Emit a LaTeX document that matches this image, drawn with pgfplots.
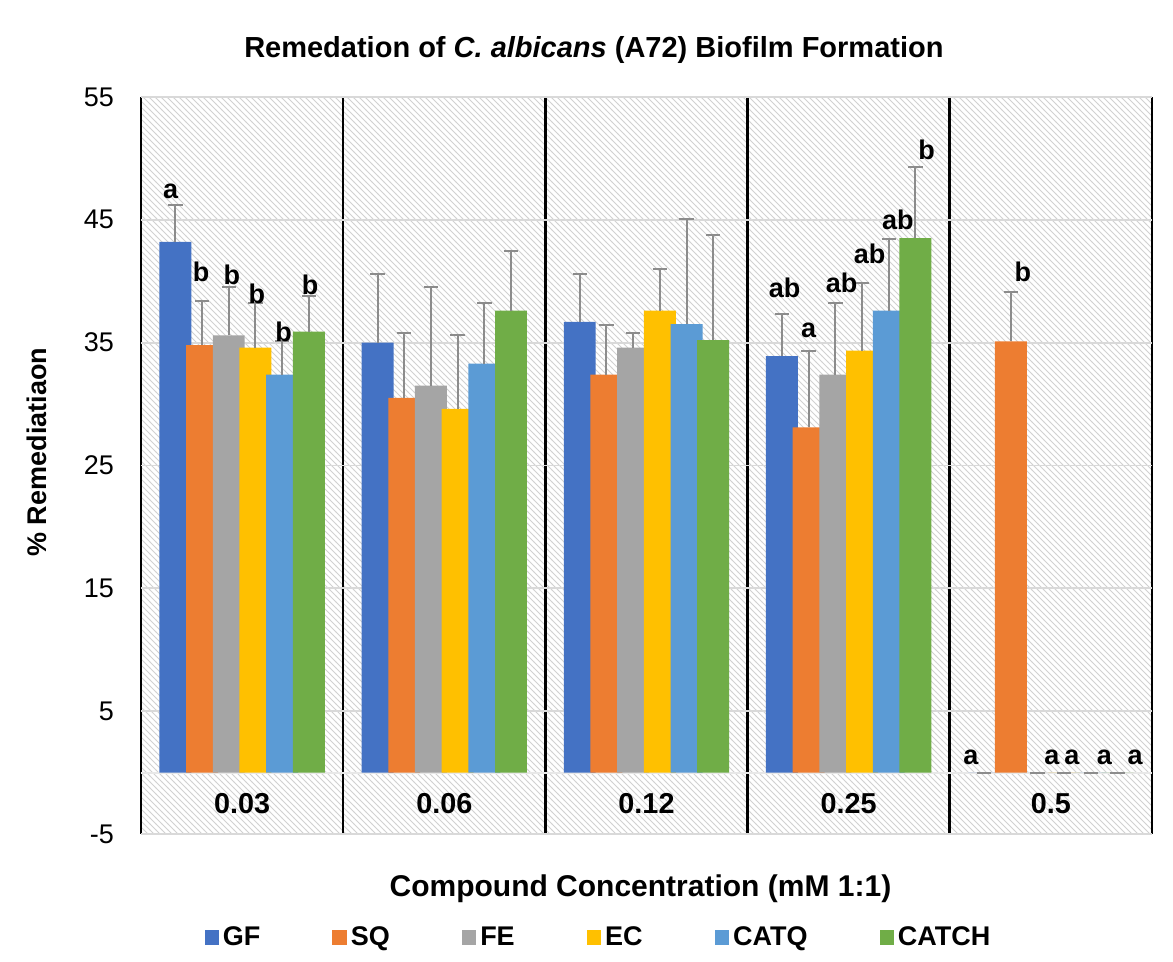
\documentclass[border=0pt]{standalone}
\usepackage{fontspec}
\setmainfont{Liberation Sans}
\usepackage{pgfplots}
\pgfplotsset{compat=1.18}
\usetikzlibrary{patterns}
\definecolor{cGF}{HTML}{4472C4}
\definecolor{cSQ}{HTML}{ED7D31}
\definecolor{cFE}{HTML}{A5A5A5}
\definecolor{cEC}{HTML}{FFC000}
\definecolor{cCATQ}{HTML}{5B9BD5}
\definecolor{cCATCH}{HTML}{70AD47}
\definecolor{cErr}{HTML}{8C8C8C}
\definecolor{cGrid}{HTML}{D9D9D9}
\pgfplotsset{
  mybar/.style={ybar, bar width=0.158, bar shift=0pt, draw=none,
    legend image code/.code={\fill[##1] (0pt,-3.6pt) rectangle (7.2pt,3.6pt);},
    error bars/y dir=plus, error bars/y explicit,
    error bars/error bar style={draw=cErr, line width=1pt},
    error bars/error mark options={rotate=90, mark size=3.6pt, line width=1pt, draw=cErr}},
}
\begin{document}
\begin{tikzpicture}
\useasboundingbox (-70.5pt,-64pt) rectangle (516pt,417pt);
\begin{axis}[
  scale only axis, width=505.5pt, height=368.5pt,
  at={(0pt,0pt)}, anchor=south west,
  xmin=-0.5, xmax=4.5, ymin=-5, ymax=55,
  ytick={-5,5,...,55},
  xtick={0,1,2,3,4},
  xticklabels={0.03,0.06,0.12,0.25,0.5},
  minor xtick={-0.5,0.5,1.5,2.5,3.5,4.5},
  xminorgrids, ymajorgrids,
  major grid style={draw=cGrid, line width=0.9pt},
  minor grid style={draw=black, line width=1.3pt},
  extra y ticks={0}, extra y tick labels={},
  extra y tick style={ymajorgrids=true, major grid style={draw=cGrid!60, line width=1pt}},
  axis line style={draw=none},
  major tick length=0pt, minor tick length=0pt,
  axis background/.style={pattern=north west lines, pattern color=black!18},
  /pgf/number format/assume math mode=true,
  yticklabel style={font=\fontsize{13.5}{16}\selectfont, xshift=-10pt},
  xticklabel style={font=\bfseries\fontsize{14.4}{17}\selectfont, anchor=center, yshift=15.35pt},
  title={Remedation of \textit{C. albicans} (A72) Biofilm Formation},
  title style={at={(axis description cs:0.448,1.0475)}, anchor=center, font=\bfseries\fontsize{14.5}{17}\selectfont},
  xlabel={Compound Concentration (mM 1:1)},
  xlabel style={at={(axis description cs:0.494,-0.0743)}, anchor=center, font=\bfseries\fontsize{15}{18}\selectfont},
  ylabel={\% Remediatiaon},
  ylabel style={at={(axis description cs:-0.1029,0.518)}, anchor=center, rotate=0, font=\bfseries\fontsize{13.5}{16}\selectfont},
  legend style={at={(axis description cs:0.4535,-0.1405)}, anchor=center, draw=none, fill=none,
    font=\bfseries\fontsize{13.5}{16}\selectfont,
    /tikz/every even column/.append style={column sep=34pt}},
  legend columns=6,
  legend entries={GF,SQ,FE,EC,CATQ,CATCH},
]
% GF (offset -0.33)
\addplot[mybar, fill=cGF] coordinates {
 (-0.33,43.2) +- (0,3.0) (0.67,35.0) +- (0,5.6) (1.67,36.7) +- (0,3.9) (2.67,33.9) +- (0,3.4) (3.67,0) +- (0,0)};
% SQ (offset -0.198)
\addplot[mybar, fill=cSQ] coordinates {
 (-0.198,34.8) +- (0,3.6) (0.802,30.5) +- (0,5.3) (1.802,32.4) +- (0,4.0) (2.802,28.1) +- (0,6.2) (3.802,35.1) +- (0,4.0)};
% FE (offset -0.066)
\addplot[mybar, fill=cFE] coordinates {
 (-0.066,35.6) +- (0,3.9) (0.934,31.5) +- (0,8.0) (1.934,34.6) +- (0,1.2) (2.934,32.4) +- (0,5.8) (3.934,0) +- (0,0)};
% EC (offset 0.066)
\addplot[mybar, fill=cEC] coordinates {
 (0.066,34.6) +- (0,3.6) (1.066,29.6) +- (0,6.0) (2.066,37.6) +- (0,3.4) (3.066,34.35) +- (0,5.5) (4.066,0) +- (0,0)};
% CATQ (offset 0.198)
\addplot[mybar, fill=cCATQ] coordinates {
 (0.198,32.4) +- (0,2.7) (1.198,33.3) +- (0,4.9) (2.198,36.5) +- (0,8.6) (3.198,37.6) +- (0,5.8) (4.198,0) +- (0,0)};
% CATCH (offset 0.33)
\addplot[mybar, fill=cCATCH] coordinates {
 (0.33,35.9) +- (0,2.9) (1.33,37.6) +- (0,4.9) (2.33,35.2) +- (0,8.6) (3.33,43.5) +- (0,5.8) (4.33,0) +- (0,0)};
\addplot[only marks, mark=*, mark size=0pt, mark options={draw=none, fill=none},
  nodes near coords, point meta=explicit symbolic,
  nodes near coords style={anchor=center, inner sep=0pt, font=\bfseries\fontsize{13.5}{16}\selectfont}]
  table[x=x, y=y, meta=lab] {
x y lab
-0.353 47.3 a
-0.203 40.8 b
-0.051 40.5 b
0.073 39.0 b
0.205 35.9 b
0.337 39.7 b
2.683 39.5 ab
2.802 36.0 a
2.965 39.9 ab
3.104 42.2 ab
3.243 45.0 ab
3.386 50.7 b
3.604 1.2 a
3.861 40.8 b
4.005 1.2 a
4.104 1.2 a
4.265 1.2 a
4.416 1.2 a
};
\end{axis}
\end{tikzpicture}
\end{document}
